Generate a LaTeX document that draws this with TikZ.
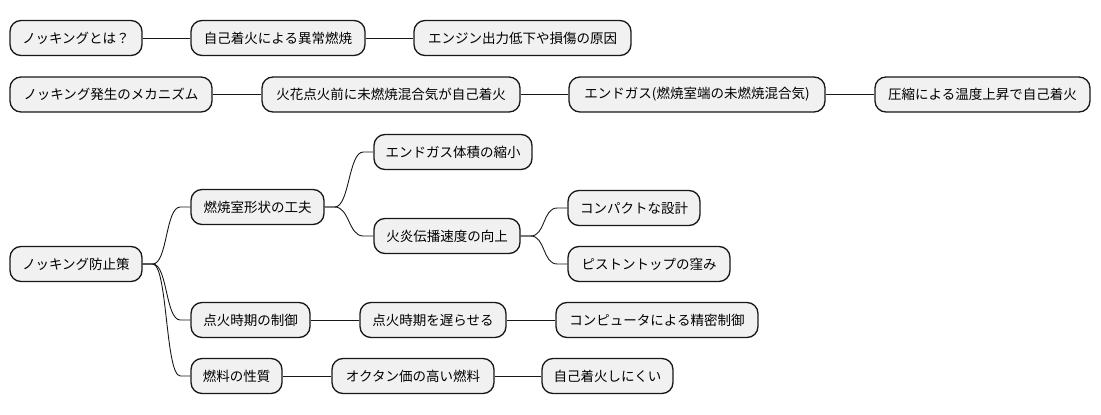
\documentclass[tikz,border=0pt]{standalone}
\usepackage{fontspec}
\setmainfont{Noto Sans CJK JP}
\usetikzlibrary{calc}
\definecolor{boxfill}{HTML}{F1F1F1}
\definecolor{boxline}{HTML}{181818}
\tikzset{
  mmbox/.style={draw=boxline, fill=boxfill, line width=1.3pt, rounded corners=11pt,
    minimum height=35pt, inner sep=0pt, align=center,
    font=\fontsize{13.5}{16}\selectfont},
  link/.style={draw=boxline, line width=0.9pt},
}
\newcommand{\curvelink}[2]{%
  \draw[link] (#1.east) -- ++(10,0) .. controls +(15,0) and +(-15,0) .. ($(#2.west)+(-10,0)$) -- (#2.west);}
\begin{document}
\begin{tikzpicture}[x=1pt,y=-1pt]
\useasboundingbox (0,0) rectangle (1101,415);
% row 1
\node[mmbox, minimum width=132pt] (a1) at (76,38) {ノッキングとは？};
\node[mmbox, minimum width=174pt] (a2) at (278,38) {自己着火による異常燃焼};
\node[mmbox, minimum width=217pt] (a3) at (522.5,38) {エンジン出力低下や損傷の原因};
\draw[link] (a1) -- (a2);
\draw[link] (a2) -- (a3);
% row 2
\node[mmbox, minimum width=202pt] (b1) at (111,94.5) {ノッキング発生のメカニズム};
\node[mmbox, minimum width=258pt] (b2) at (391,94.5) {火花点火前に未燃焼混合気が自己着火};
\node[mmbox, minimum width=256pt] (b3) at (697,94.5) {エンドガス(燃焼室端の未燃焼混合気)};
\node[mmbox, minimum width=215pt] (b4) at (982.5,94.5) {圧縮による温度上昇で自己着火};
\draw[link] (b1) -- (b2);
\draw[link] (b2) -- (b3);
\draw[link] (b3) -- (b4);
% tree
\node[mmbox, minimum width=132pt] (root) at (76,264) {ノッキング防止策};
\node[mmbox, minimum width=133pt] (c1) at (257.5,207) {燃焼室形状の工夫};
\node[mmbox, minimum width=158pt] (c11) at (453,152) {エンドガス体積の縮小};
\node[mmbox, minimum width=146pt] (c12) at (447,236) {火炎伝播速度の向上};
\node[mmbox, minimum width=132pt] (c121) at (634,208) {コンパクトな設計};
\node[mmbox, minimum width=162pt] (c122) at (649,264) {ピストントップの窪み};
\node[mmbox, minimum width=119pt] (c2) at (250.5,320) {点火時期の制御};
\node[mmbox, minimum width=146pt] (c21) at (433,320) {点火時期を遅らせる};
\node[mmbox, minimum width=202pt] (c211) at (657,320) {コンピュータによる精密制御};
\node[mmbox, minimum width=91pt] (c3) at (236.5,376) {燃料の性質};
\node[mmbox, minimum width=162pt] (c31) at (413,376) {オクタン価の高い燃料};
\node[mmbox, minimum width=131pt] (c311) at (607.5,376) {自己着火しにくい};
\curvelink{root}{c1}
\curvelink{root}{c2}
\curvelink{root}{c3}
\curvelink{c1}{c11}
\curvelink{c1}{c12}
\curvelink{c12}{c121}
\curvelink{c12}{c122}
\draw[link] (c2) -- (c21);
\draw[link] (c21) -- (c211);
\draw[link] (c3) -- (c31);
\draw[link] (c31) -- (c311);
\end{tikzpicture}
\end{document}
